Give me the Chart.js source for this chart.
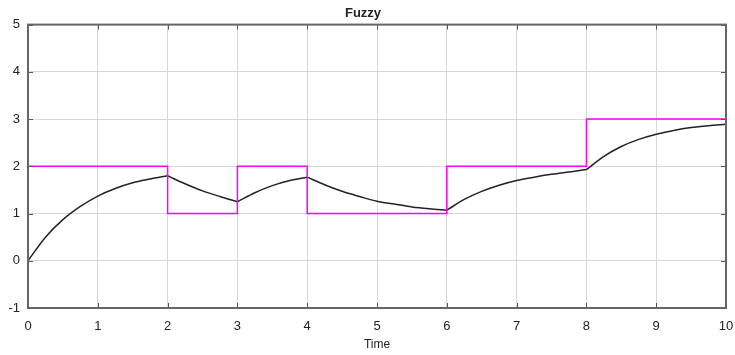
<!DOCTYPE html>
<html>
<head>
<meta charset="utf-8">
<script src="https://cdn.jsdelivr.net/npm/chart.js@4"></script>
<style>
  html, body { margin: 0; padding: 0; background: #fff; }
  #wrap { width: 735px; height: 355px; }
</style>
</head>
<body>
<div id="wrap"><canvas id="fuzzyChart" width="735" height="355"></canvas></div>
<script>
// data
const timeTicks = [0, 1, 2, 3, 4, 5, 6, 7, 8, 9, 10];
const valueTicks = [-1, 0, 1, 2, 3, 4, 5];

// setpoint (magenta steps): value held from each time until the next one
const stepTimes = [0, 2, 3, 4, 6, 8, 10];
const stepValues = [2, 1, 2, 1, 2, 3, 3];

// response (black curve), sampled every 0.25 s
const respTimes = [0, 0.25, 0.5, 0.75, 1, 1.25, 1.5, 1.75, 2,
  2.25, 2.5, 2.75, 3, 3.25, 3.5, 3.75, 4,
  4.25, 4.5, 4.75, 5, 5.25, 5.5, 5.75, 6,
  6.25, 6.5, 6.75, 7, 7.25, 7.5, 7.75, 8,
  8.25, 8.5, 8.75, 9, 9.25, 9.5, 9.75, 10];
const respValues = [0, 0.50, 0.87, 1.15, 1.37, 1.53, 1.65, 1.73, 1.80,
  1.63, 1.48, 1.36, 1.25, 1.44, 1.59, 1.70, 1.77,
  1.61, 1.47, 1.36, 1.26, 1.20, 1.14, 1.10, 1.07,
  1.30, 1.47, 1.60, 1.70, 1.77, 1.83, 1.88, 1.93,
  2.21, 2.42, 2.57, 2.68, 2.76, 2.82, 2.86, 2.89];

const stepPts = stepTimes.map((t, i) => ({ x: t, y: stepValues[i] }));

// split the response at each setpoint change so the corners stay sharp
const respSegments = [];
for (let k = 0; k < stepTimes.length - 1; k++) {
  const t0 = stepTimes[k], t1 = stepTimes[k + 1];
  const pts = [];
  respTimes.forEach((t, i) => {
    if (t >= t0 && t <= t1) pts.push({ x: t, y: respValues[i] });
  });
  if (pts.length > 1) respSegments.push(pts);
}

const FONT = 'Liberation Sans, Arial, sans-serif';

// frame box with small inward ticks on all four sides
const framePlugin = {
  id: 'frame',
  afterDraw(chart) {
    const { ctx, chartArea: a, scales } = chart;
    ctx.save();
    ctx.strokeStyle = '#555';
    ctx.lineWidth = 1;
    const len = 5;
    ctx.beginPath();
    timeTicks.forEach(t => {
      const px = Math.round(scales.x.getPixelForValue(t)) + 0.5;
      ctx.moveTo(px, a.bottom); ctx.lineTo(px, a.bottom - len);
      ctx.moveTo(px, a.top); ctx.lineTo(px, a.top + len);
    });
    valueTicks.forEach(v => {
      const py = Math.round(scales.y.getPixelForValue(v)) + 0.5;
      ctx.moveTo(a.left, py); ctx.lineTo(a.left + len, py);
      ctx.moveTo(a.right, py); ctx.lineTo(a.right - len, py);
    });
    ctx.stroke();
    ctx.lineWidth = 2;
    ctx.strokeStyle = '#666';
    ctx.strokeRect(a.left, a.top, a.right - a.left, a.bottom - a.top);
    ctx.restore();
  }
};

const datasets = [{
  label: 'Setpoint',
  data: stepPts,
  borderColor: '#ff00ff',
  borderWidth: 1.5,
  stepped: 'before',
  pointRadius: 0,
  fill: false
}];
respSegments.forEach(seg => {
  datasets.push({
    label: 'Output',
    data: seg,
    borderColor: '#222222',
    borderWidth: 1.5,
    cubicInterpolationMode: 'monotone',
    pointRadius: 0,
    fill: false
  });
});

new Chart(document.getElementById('fuzzyChart').getContext('2d'), {
  type: 'line',
  data: { datasets: datasets },
  options: {
    responsive: false,
    animation: false,
    layout: { padding: { left: 0, right: 9, top: 0, bottom: 0 } },
    plugins: {
      legend: { display: false },
      tooltip: { enabled: false },
      title: {
        display: true,
        text: 'Fuzzy',
        color: '#222',
        font: { family: FONT, size: 13, weight: 'bold' },
        padding: { top: 6, bottom: 3 }
      }
    },
    scales: {
      x: {
        type: 'linear',
        min: 0,
        max: 10,
        afterBuildTicks: s => { s.ticks = timeTicks.map(v => ({ value: v })); },
        afterFit: s => { s.height = 47; s.paddingLeft = 0; s.paddingRight = 0; },
        grid: { color: '#d8d8d8', lineWidth: 1, drawTicks: false },
        border: { display: false },
        ticks: { color: '#222', font: { family: FONT, size: 13 }, padding: 11, maxRotation: 0 },
        title: {
          display: true,
          text: 'Time',
          color: '#222',
          font: { family: FONT, size: 12 },
          padding: { top: 0, bottom: 3 }
        }
      },
      y: {
        min: -1,
        max: 5,
        afterBuildTicks: s => { s.ticks = valueTicks.map(v => ({ value: v })); },
        afterFit: s => { s.width = 28; s.paddingTop = 0; s.paddingBottom = 0; },
        grid: { color: '#d8d8d8', lineWidth: 1, drawTicks: false },
        border: { display: false },
        ticks: { color: '#222', font: { family: FONT, size: 13 }, padding: 8 }
      }
    }
  },
  plugins: [framePlugin]
});
</script>
</body>
</html>
